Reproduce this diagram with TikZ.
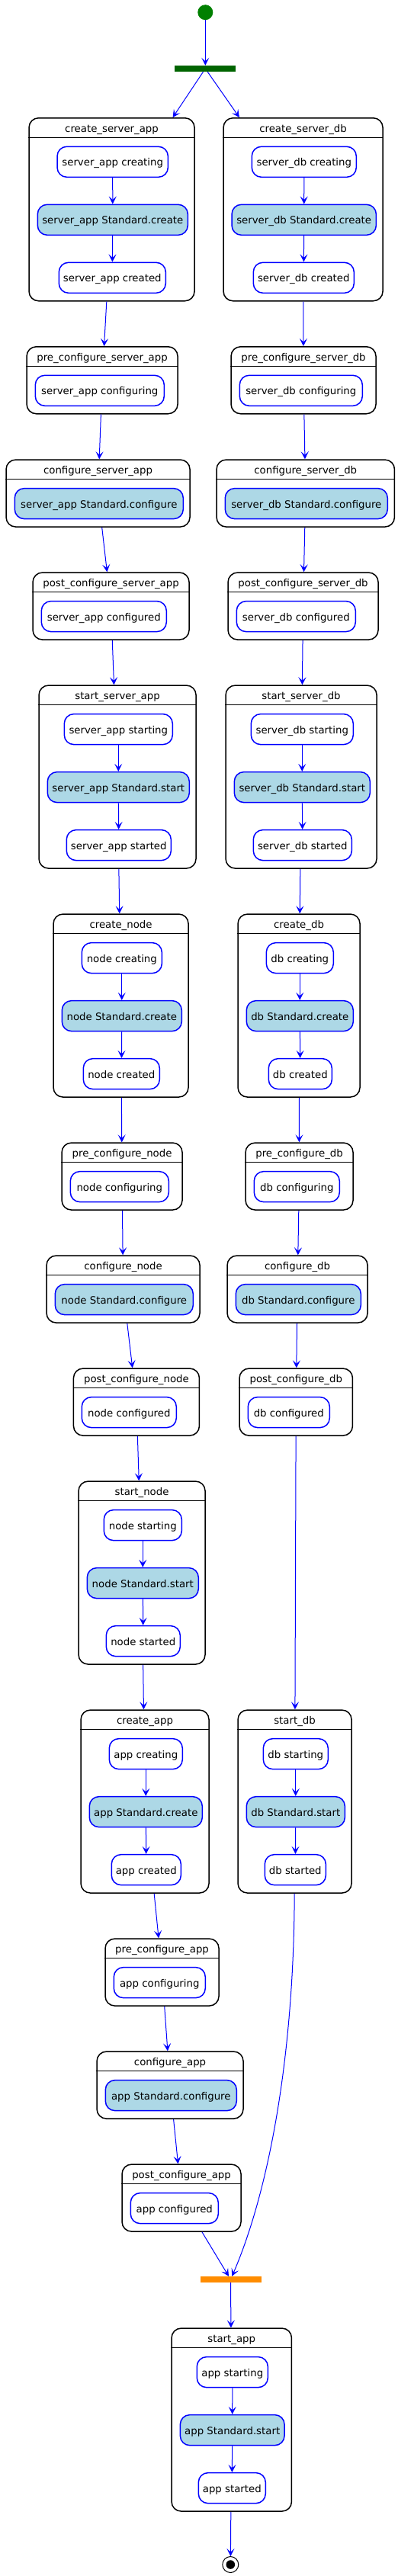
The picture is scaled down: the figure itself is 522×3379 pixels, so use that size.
\documentclass[tikz,border=0pt]{standalone}
\usepackage{fontspec}
\setmainfont{DejaVu Sans}
\usetikzlibrary{arrows.meta}

\definecolor{umlblue}{HTML}{0000FF}
\definecolor{actfill}{HTML}{ADD8E6}
\definecolor{forkgreen}{HTML}{006400}
\definecolor{startgreen}{HTML}{008000}
\definecolor{joinorange}{HTML}{FF8C00}

\begin{document}
\begin{tikzpicture}[x=1pt,y=-1pt,
    group/.style={draw=black, line width=1.5pt, rounded corners=12.5pt, fill=white, anchor=north west, inner sep=0pt},
    grouptitle/.style={anchor=base, inner sep=0pt, font=\fontsize{13.3}{16}\selectfont},
    sep/.style={draw=black, line width=1.2pt},
    state/.style={draw=umlblue, line width=1.5pt, rounded corners=12.5pt, fill=white, minimum height=40pt, inner sep=0pt,
                  text height=10.8pt, text depth=0pt, font=\fontsize{13.3}{16}\selectfont},
    action/.style={state, fill=actfill},
    trans/.style={draw=umlblue, line width=1pt, -{Stealth[length=10pt,width=10pt,inset=4.5pt]}},
    bar/.style={minimum width=80pt, minimum height=8pt, inner sep=0pt},
    startstate/.style={circle, fill=startgreen, minimum size=20pt, inner sep=0pt},
    endstate/.style={circle, draw=black, line width=1pt, fill=white, minimum size=21pt, inner sep=0pt,
                     path picture={\fill[black] (path picture bounding box.center) circle (5.8pt);}}]
    \fill[white] (0,0) rectangle (522,3379);
    \useasboundingbox (0,0) rectangle (522,3379);

    % Start and fork
    \node[startstate] (start) at (269.3,16.2) {};
    \node[bar, fill=forkgreen] (fork) at (269.3,90) {};

    % create_server_app
    \node[group, minimum width=217, minimum height=240] (create-server-app) at (37.3,154) {};
    \node[grouptitle] (create-server-app-t) at ([yshift=-19.3pt]create-server-app.north) {create\_server\_app};
    \draw[sep] ([yshift=-26.3pt]create-server-app.north west) -- ([yshift=-26.3pt]create-server-app.north east);
    \node[state, minimum width=145.3] (create-server-app-1) at (147.7,212.3) {server\_app creating};
    \node[action, minimum width=197] (create-server-app-2) at (147.8,288.3) {server\_app Standard.create};
    \node[state, minimum width=140] (create-server-app-3) at (147.3,364.3) {server\_app created};

    % create_server_db
    \node[group, minimum width=209, minimum height=240] (create-server-db) at (292.3,154) {};
    \node[grouptitle] (create-server-db-t) at ([yshift=-19.3pt]create-server-db.north) {create\_server\_db};
    \draw[sep] ([yshift=-26.3pt]create-server-db.north west) -- ([yshift=-26.3pt]create-server-db.north east);
    \node[state, minimum width=137] (create-server-db-1) at (398.8,212.3) {server\_db creating};
    \node[action, minimum width=189.3] (create-server-db-2) at (398.7,288.3) {server\_db Standard.create};
    \node[state, minimum width=132] (create-server-db-3) at (398.3,364.3) {server\_db created};

    % pre_configure_server_app
    \node[group, minimum width=198, minimum height=88] (pre-configure-server-app) at (34.3,454) {};
    \node[grouptitle] (pre-configure-server-app-t) at ([yshift=-19.3pt]pre-configure-server-app.north) {pre\_configure\_server\_app};
    \draw[sep] ([yshift=-26.3pt]pre-configure-server-app.north west) -- ([yshift=-26.3pt]pre-configure-server-app.north east);
    \node[state, minimum width=169] (pre-configure-server-app-1) at (130.8,512.3) {server\_app configuring};

    % pre_configure_server_db
    \node[group, minimum width=190, minimum height=88] (pre-configure-server-db) at (302.3,454) {};
    \node[grouptitle] (pre-configure-server-db-t) at ([yshift=-19.3pt]pre-configure-server-db.north) {pre\_configure\_server\_db};
    \draw[sep] ([yshift=-26.3pt]pre-configure-server-db.north west) -- ([yshift=-26.3pt]pre-configure-server-db.north east);
    \node[state, minimum width=161] (pre-configure-server-db-1) at (394.8,512.3) {server\_db configuring};

    % configure_server_app
    \node[group, minimum width=241, minimum height=88] (configure-server-app) at (7.3,602.3) {};
    \node[grouptitle] (configure-server-app-t) at ([yshift=-19.3pt]configure-server-app.north) {configure\_server\_app};
    \draw[sep] ([yshift=-26.3pt]configure-server-app.north west) -- ([yshift=-26.3pt]configure-server-app.north east);
    \node[action, minimum width=221] (configure-server-app-1) at (129.8,660.6) {server\_app Standard.configure};

    % configure_server_db
    \node[group, minimum width=233.4, minimum height=88] (configure-server-db) at (283.3,602.3) {};
    \node[grouptitle] (configure-server-db-t) at ([yshift=-19.3pt]configure-server-db.north) {configure\_server\_db};
    \draw[sep] ([yshift=-26.3pt]configure-server-db.north west) -- ([yshift=-26.3pt]configure-server-db.north east);
    \node[action, minimum width=213] (configure-server-db-1) at (401.8,660.6) {server\_db Standard.configure};

    % post_configure_server_app
    \node[group, minimum width=205, minimum height=88] (post-configure-server-app) at (42.3,750.3) {};
    \node[grouptitle] (post-configure-server-app-t) at ([yshift=-19.3pt]post-configure-server-app.north) {post\_configure\_server\_app};
    \draw[sep] ([yshift=-26.3pt]post-configure-server-app.north west) -- ([yshift=-26.3pt]post-configure-server-app.north east);
    \node[state, minimum width=164] (post-configure-server-app-1) at (136.3,808.6) {server\_app configured};

    % post_configure_server_db
    \node[group, minimum width=197, minimum height=88] (post-configure-server-db) at (298.3,750.3) {};
    \node[grouptitle] (post-configure-server-db-t) at ([yshift=-19.3pt]post-configure-server-db.north) {post\_configure\_server\_db};
    \draw[sep] ([yshift=-26.3pt]post-configure-server-db.north west) -- ([yshift=-26.3pt]post-configure-server-db.north east);
    \node[state, minimum width=156] (post-configure-server-db-1) at (388.3,808.6) {server\_db configured};

    % start_server_app
    \node[group, minimum width=206, minimum height=240] (start-server-app) at (50.3,898.3) {};
    \node[grouptitle] (start-server-app-t) at ([yshift=-19.3pt]start-server-app.north) {start\_server\_app};
    \draw[sep] ([yshift=-26.3pt]start-server-app.north west) -- ([yshift=-26.3pt]start-server-app.north east);
    \node[state, minimum width=142] (start-server-app-1) at (155.3,956.6) {server\_app starting};
    \node[action, minimum width=186] (start-server-app-2) at (155.3,1032.6) {server\_app Standard.start};
    \node[state, minimum width=137] (start-server-app-3) at (155.8,1108.6) {server\_app started};

    % start_server_db
    \node[group, minimum width=198, minimum height=240] (start-server-db) at (295.3,898.3) {};
    \node[grouptitle] (start-server-db-t) at ([yshift=-19.3pt]start-server-db.north) {start\_server\_db};
    \draw[sep] ([yshift=-26.3pt]start-server-db.north west) -- ([yshift=-26.3pt]start-server-db.north east);
    \node[state, minimum width=134] (start-server-db-1) at (396.3,956.6) {server\_db starting};
    \node[action, minimum width=178] (start-server-db-2) at (396.3,1032.6) {server\_db Standard.start};
    \node[state, minimum width=129] (start-server-db-3) at (396.8,1108.6) {server\_db started};

    % create_node
    \node[group, minimum width=177, minimum height=240] (create-node) at (69.3,1198.3) {};
    \node[grouptitle] (create-node-t) at ([yshift=-19.3pt]create-node.north) {create\_node};
    \draw[sep] ([yshift=-26.3pt]create-node.north west) -- ([yshift=-26.3pt]create-node.north east);
    \node[state, minimum width=105] (create-node-1) at (159.8,1256.6) {node creating};
    \node[action, minimum width=157] (create-node-2) at (159.8,1332.6) {node Standard.create};
    \node[state, minimum width=100] (create-node-3) at (159.3,1408.6) {node created};

    % create_db
    \node[group, minimum width=160, minimum height=240] (create-db) at (311.3,1198.3) {};
    \node[grouptitle] (create-db-t) at ([yshift=-19.3pt]create-db.north) {create\_db};
    \draw[sep] ([yshift=-26.3pt]create-db.north west) -- ([yshift=-26.3pt]create-db.north east);
    \node[state, minimum width=88] (create-db-1) at (393.3,1256.6) {db creating};
    \node[action, minimum width=140] (create-db-2) at (393.3,1332.6) {db Standard.create};
    \node[state, minimum width=83] (create-db-3) at (393.8,1408.6) {db created};

    % pre_configure_node
    \node[group, minimum width=158, minimum height=88] (pre-configure-node) at (80.3,1498.3) {};
    \node[grouptitle] (pre-configure-node-t) at ([yshift=-19.3pt]pre-configure-node.north) {pre\_configure\_node};
    \draw[sep] ([yshift=-26.3pt]pre-configure-node.north west) -- ([yshift=-26.3pt]pre-configure-node.north east);
    \node[state, minimum width=129] (pre-configure-node-1) at (156.8,1556.6) {node configuring};

    % pre_configure_db
    \node[group, minimum width=141, minimum height=88] (pre-configure-db) at (321.3,1498.3) {};
    \node[grouptitle] (pre-configure-db-t) at ([yshift=-19.3pt]pre-configure-db.north) {pre\_configure\_db};
    \draw[sep] ([yshift=-26.3pt]pre-configure-db.north west) -- ([yshift=-26.3pt]pre-configure-db.north east);
    \node[state, minimum width=112] (pre-configure-db-1) at (389.3,1556.6) {db configuring};

    % configure_node
    \node[group, minimum width=201, minimum height=88] (configure-node) at (60.3,1646.3) {};
    \node[grouptitle] (configure-node-t) at ([yshift=-19.3pt]configure-node.north) {configure\_node};
    \draw[sep] ([yshift=-26.3pt]configure-node.north west) -- ([yshift=-26.3pt]configure-node.north east);
    \node[action, minimum width=181] (configure-node-1) at (162.8,1704.6) {node Standard.configure};

    % configure_db
    \node[group, minimum width=184, minimum height=88] (configure-db) at (297.3,1646.3) {};
    \node[grouptitle] (configure-db-t) at ([yshift=-19.3pt]configure-db.north) {configure\_db};
    \draw[sep] ([yshift=-26.3pt]configure-db.north west) -- ([yshift=-26.3pt]configure-db.north east);
    \node[action, minimum width=164] (configure-db-1) at (391.3,1704.6) {db Standard.configure};

    % post_configure_node
    \node[group, minimum width=165, minimum height=88] (post-configure-node) at (95.7,1794.3) {};
    \node[grouptitle] (post-configure-node-t) at ([yshift=-19.3pt]post-configure-node.north) {post\_configure\_node};
    \draw[sep] ([yshift=-26.3pt]post-configure-node.north west) -- ([yshift=-26.3pt]post-configure-node.north east);
    \node[state, minimum width=124] (post-configure-node-1) at (169.3,1852.6) {node configured};

    % post_configure_db
    \node[group, minimum width=148.4, minimum height=88] (post-configure-db) at (313.3,1794.3) {};
    \node[grouptitle] (post-configure-db-t) at ([yshift=-19.3pt]post-configure-db.north) {post\_configure\_db};
    \draw[sep] ([yshift=-26.3pt]post-configure-db.north west) -- ([yshift=-26.3pt]post-configure-db.north east);
    \node[state, minimum width=107] (post-configure-db-1) at (378.8,1852.6) {db configured};

    % start_node
    \node[group, minimum width=166, minimum height=240] (start-node) at (102.3,1942.3) {};
    \node[grouptitle] (start-node-t) at ([yshift=-19.3pt]start-node.north) {start\_node};
    \draw[sep] ([yshift=-26.3pt]start-node.north west) -- ([yshift=-26.3pt]start-node.north east);
    \node[state, minimum width=102] (start-node-1) at (187.3,2000.6) {node starting};
    \node[action, minimum width=146] (start-node-2) at (187.3,2076.6) {node Standard.start};
    \node[state, minimum width=97] (start-node-3) at (187.8,2152.6) {node started};

    % create_app
    \node[group, minimum width=168, minimum height=240] (create-app) at (105.3,2242.3) {};
    \node[grouptitle] (create-app-t) at ([yshift=-19.3pt]create-app.north) {create\_app};
    \draw[sep] ([yshift=-26.3pt]create-app.north west) -- ([yshift=-26.3pt]create-app.north east);
    \node[state, minimum width=96] (create-app-1) at (191.3,2300.6) {app creating};
    \node[action, minimum width=148] (create-app-2) at (191.3,2376.6) {app Standard.create};
    \node[state, minimum width=91] (create-app-3) at (191.8,2452.6) {app created};

    % start_db
    \node[group, minimum width=149, minimum height=240] (start-db) at (311.3,2242.3) {};
    \node[grouptitle] (start-db-t) at ([yshift=-19.3pt]start-db.north) {start\_db};
    \draw[sep] ([yshift=-26.3pt]start-db.north west) -- ([yshift=-26.3pt]start-db.north east);
    \node[state, minimum width=85] (start-db-1) at (387.8,2300.6) {db starting};
    \node[action, minimum width=129] (start-db-2) at (387.8,2376.6) {db Standard.start};
    \node[state, minimum width=80] (start-db-3) at (387.3,2452.6) {db started};

    % pre_configure_app
    \node[group, minimum width=149, minimum height=88] (pre-configure-app) at (137.3,2542.3) {};
    \node[grouptitle] (pre-configure-app-t) at ([yshift=-19.3pt]pre-configure-app.north) {pre\_configure\_app};
    \draw[sep] ([yshift=-26.3pt]pre-configure-app.north west) -- ([yshift=-26.3pt]pre-configure-app.north east);
    \node[state, minimum width=120] (pre-configure-app-1) at (209.3,2600.6) {app configuring};

    % configure_app
    \node[group, minimum width=192, minimum height=88] (configure-app) at (126.3,2690.3) {};
    \node[grouptitle] (configure-app-t) at ([yshift=-19.3pt]configure-app.north) {configure\_app};
    \draw[sep] ([yshift=-26.3pt]configure-app.north west) -- ([yshift=-26.3pt]configure-app.north east);
    \node[action, minimum width=172] (configure-app-1) at (224.3,2748.6) {app Standard.configure};

    % post_configure_app
    \node[group, minimum width=156, minimum height=88] (post-configure-app) at (159.3,2838.3) {};
    \node[grouptitle] (post-configure-app-t) at ([yshift=-19.3pt]post-configure-app.north) {post\_configure\_app};
    \draw[sep] ([yshift=-26.3pt]post-configure-app.north west) -- ([yshift=-26.3pt]post-configure-app.north east);
    \node[state, minimum width=115] (post-configure-app-1) at (228.8,2896.6) {app configured};

    % Join
    \node[bar, fill=joinorange] (join) at (302.5,2990) {};

    % start_app
    \node[group, minimum width=157.4, minimum height=240] (start-app) at (224.3,3053.3) {};
    \node[grouptitle] (start-app-t) at ([yshift=-19.3pt]start-app.north) {start\_app};
    \draw[sep] ([yshift=-26.3pt]start-app.north west) -- ([yshift=-26.3pt]start-app.north east);
    \node[state, minimum width=93] (start-app-1) at (304.8,3111.6) {app starting};
    \node[action, minimum width=136.7] (start-app-2) at (304.7,3187.6) {app Standard.start};
    \node[state, minimum width=88] (start-app-3) at (304.3,3263.6) {app started};

    % End
    \node[endstate] (end) at (302.3,3364) {};

    % Transitions inside the states
    \draw[trans] (create-server-app-1) -- (create-server-app-2);
    \draw[trans] (create-server-app-2) -- (create-server-app-3);
    \draw[trans] (create-server-db-1) -- (create-server-db-2);
    \draw[trans] (create-server-db-2) -- (create-server-db-3);
    \draw[trans] (start-server-app-1) -- (start-server-app-2);
    \draw[trans] (start-server-app-2) -- (start-server-app-3);
    \draw[trans] (start-server-db-1) -- (start-server-db-2);
    \draw[trans] (start-server-db-2) -- (start-server-db-3);
    \draw[trans] (create-node-1) -- (create-node-2);
    \draw[trans] (create-node-2) -- (create-node-3);
    \draw[trans] (create-db-1) -- (create-db-2);
    \draw[trans] (create-db-2) -- (create-db-3);
    \draw[trans] (start-node-1) -- (start-node-2);
    \draw[trans] (start-node-2) -- (start-node-3);
    \draw[trans] (create-app-1) -- (create-app-2);
    \draw[trans] (create-app-2) -- (create-app-3);
    \draw[trans] (start-db-1) -- (start-db-2);
    \draw[trans] (start-db-2) -- (start-db-3);
    \draw[trans] (start-app-1) -- (start-app-2);
    \draw[trans] (start-app-2) -- (start-app-3);

    % Transitions between the states
    \draw[trans] (start) -- (fork);
    \draw[trans] (fork) -- (create-server-app);
    \draw[trans] (fork) -- (create-server-db);
    \draw[trans] (create-server-app) -- (pre-configure-server-app);
    \draw[trans] (pre-configure-server-app) -- (configure-server-app);
    \draw[trans] (configure-server-app) -- (post-configure-server-app);
    \draw[trans] (post-configure-server-app) -- (start-server-app);
    \draw[trans] (start-server-app) -- (create-node);
    \draw[trans] (create-node) -- (pre-configure-node);
    \draw[trans] (pre-configure-node) -- (configure-node);
    \draw[trans] (configure-node) -- (post-configure-node);
    \draw[trans] (post-configure-node) -- (start-node);
    \draw[trans] (start-node) -- (create-app);
    \draw[trans] (create-app) -- (pre-configure-app);
    \draw[trans] (pre-configure-app) -- (configure-app);
    \draw[trans] (configure-app) -- (post-configure-app);
    \draw[trans] (post-configure-app) -- (join);
    \draw[trans] (create-server-db) -- (pre-configure-server-db);
    \draw[trans] (pre-configure-server-db) -- (configure-server-db);
    \draw[trans] (configure-server-db) -- (post-configure-server-db);
    \draw[trans] (post-configure-server-db) -- (start-server-db);
    \draw[trans] (start-server-db) -- (create-db);
    \draw[trans] (create-db) -- (pre-configure-db);
    \draw[trans] (pre-configure-db) -- (configure-db);
    \draw[trans] (configure-db) -- (post-configure-db);
    \draw[trans] (post-configure-db) -- (start-db);
    \draw[trans] (start-db) .. controls (385.5,2700) and (352,2875) .. (join);
    \draw[trans] (join) -- (start-app);
    \draw[trans] (start-app) -- (end);
\end{tikzpicture}
\end{document}
